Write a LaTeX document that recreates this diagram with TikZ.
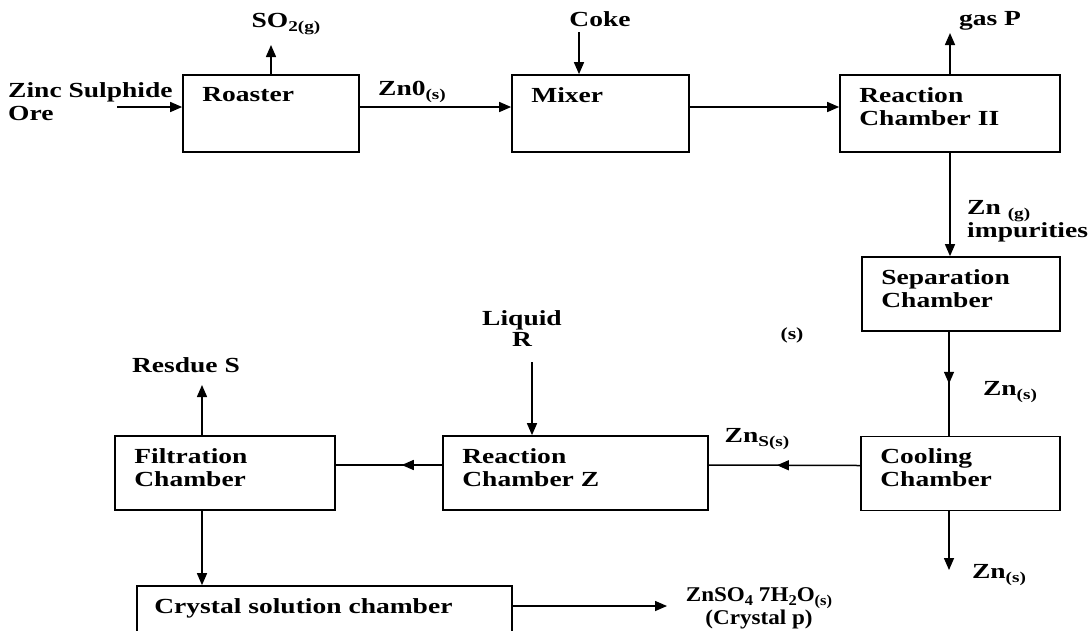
\documentclass[tikz,border=0pt]{standalone}
\usepackage{fontspec}
\setmainfont{Liberation Serif}[FakeStretch=1.28]
\newfontfamily\prodfont{Liberation Serif}[FakeStretch=1.1]
\usetikzlibrary{positioning,arrows.meta,calc,decorations.markings}

\newcommand\chamberfont{\fontsize{21.5}{23}\selectfont\bfseries}
\newcommand\chsub[1]{\raisebox{-0.45ex}{\fontsize{15}{15}\selectfont #1}}

\tikzset{
  chamber/.style={draw, line width=1.7pt, minimum height=74pt, inner sep=0pt},
  intext/.style={anchor=north west, xshift=20pt, yshift=-13pt, inner sep=0pt, align=left, font=\chamberfont},
  flow/.style={line width=1.5pt, -{Triangle[length=12pt,width=10pt]}},
  midflow/.style={line width=1.5pt, decoration={markings, mark=at position #1 with {\arrow{Triangle[length=12pt,width=10pt]}}}, postaction={decorate}},
  tag/.style={inner sep=0pt, font=\chamberfont, anchor=base},
}

\begin{document}
\begin{tikzpicture}[x=1pt, y=-1pt]
    \useasboundingbox (0,0) rectangle (1091,630);
    \clip (0,0) rectangle (1091,630);

    % top row
    \node[chamber, minimum width=176pt, minimum height=77pt, label={[intext]north west:Roaster}] (roaster) at (271,113.5) {};
    \node[chamber, minimum width=177pt, minimum height=77pt, label={[intext]north west:Mixer}] (mixer) at (600.5,113.5) {};
    \node[chamber, minimum width=220pt, minimum height=77pt, label={[intext]north west:{Reaction\\Chamber II}}] (rc2) at (950,113.5) {};

    % right column
    \node[chamber, minimum width=198pt, label={[intext]north west:{Separation\\Chamber}}] (sep) at (961,294) {};
    \node[chamber, minimum width=199pt, label={[intext]north west:{Cooling\\Chamber}}] (cool) at (960.5,473.5) {};

    % bottom row
    \node[chamber, minimum width=265pt, label={[intext]north west:{Reaction\\Chamber Z}}] (rcz) at (575.5,473) {};
    \node[chamber, minimum width=220pt, label={[intext]north west:{Filtration\\Chamber}}] (filt) at (225,473) {};
    \node[chamber, minimum width=375pt, label={[intext, xshift=-2pt]north west:Crystal solution chamber}] (cryst) at (324.5,623) {};

    % outside labels
    \node[tag, anchor=north west, align=left] (ore) at (8,82) {Zinc Sulphide\\Ore};
    \node[tag] (so2) at (286,27) {SO\chsub{2(g)}};
    \node[tag] (coke) at (600,26) {Coke};
    \node[tag] (gasp) at (990,25) {gas P};
    \node[tag] (zno) at (412,95) {Zn0\chsub{(s)}};
    \node[tag, anchor=north west, align=left] (zng) at (967,200) {Zn \chsub{(g)}\\[0pt]impurities};
    \node[tag] (zns1) at (1010,395) {Zn\chsub{(s)}};
    \node[tag] (zns2) at (999,578) {Zn\chsub{(s)}};
    \node[tag] (zns) at (757,442) {Zn\chsub{S(s)}};
    \node[tag, font=\fontsize{17}{17}\selectfont\bfseries] (stray) at (792,339) {(s)};
    \node[tag, anchor=north, align=center] (liq) at (522,310) {Liquid\\[-2pt]R};
    \node[tag] (res) at (186,372) {Resdue S};
    \node[tag, anchor=north, align=center, font=\prodfont\fontsize{21}{22}\selectfont\bfseries] (prod) at (759,587) {ZnSO\chsub{4} 7H\chsub{2}O\chsub{(s)}\\(Crystal p)};

    % free ends
    \coordinate (orein) at (117,107);
    \coordinate (so2tip) at (271,45);
    \coordinate (cokeend) at (579,32);
    \coordinate (gastip) at (950,33);
    \coordinate (znout) at (949,570);
    \coordinate (liqend) at (532,362);
    \coordinate (restip) at (202,385);
    \coordinate (prodtip) at (667,606);

    % connectors
    \draw[flow] (orein) -- (orein -| roaster.west);
    \draw[flow] (roaster.north) -- (so2tip);
    \draw[flow] ([yshift=6.5pt]roaster.east) -- ([yshift=6.5pt]mixer.west);
    \draw[flow] (cokeend) -- (cokeend |- mixer.north);
    \draw[flow] ([yshift=6.5pt]mixer.east) -- ([yshift=6.5pt]rc2.west);
    \draw[flow] (rc2.north) -- (gastip);
    \draw[flow] (rc2.south) -- (rc2.south |- sep.north);
    \draw[midflow=0.5] (znout |- sep.south) -- (znout |- cool.north);
    \draw[flow] (znout |- cool.south) -- (znout);
    \draw[midflow=0.55] ([yshift=8pt]cool.west) -- ([yshift=8pt]rcz.east);
    \draw[flow] (liqend) -- (liqend |- rcz.north);
    \draw[midflow=0.38] ([yshift=8pt]rcz.west) -- ([yshift=8pt]filt.east);
    \draw[flow] (restip |- filt.north) -- (restip);
    \draw[flow] (restip |- filt.south) -- (restip |- cryst.north);
    \draw[flow] (prodtip -| cryst.east) -- (prodtip);
\end{tikzpicture}
\end{document}
